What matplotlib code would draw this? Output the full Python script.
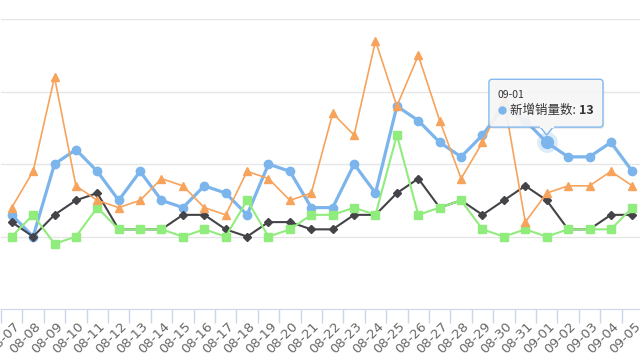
import matplotlib
matplotlib.use("Agg")
import matplotlib.pyplot as plt
import matplotlib.transforms as mtransforms
from matplotlib.patches import FancyBboxPatch, Polygon
import numpy as np

dates = ['08-07', '08-08', '08-09', '08-10', '08-11', '08-12', '08-13', '08-14',
         '08-15', '08-16', '08-17', '08-18', '08-19', '08-20', '08-21', '08-22',
         '08-23', '08-24', '08-25', '08-26', '08-27', '08-28', '08-29', '08-30',
         '08-31', '09-01', '09-02', '09-03', '09-04', '09-05']

new_sales = [3, 0, 10, 12, 9, 5, 9, 5, 4, 7, 6, 3, 10, 9, 4, 4,
             10, 6, 18, 16, 13, 11, 14, 18, 16, 13, 11, 11, 13, 9]
series_black = [2, 0, 3, 5, 6, 1, 1, 1, 3, 3, 1, 0, 2, 2, 1, 1,
                3, 3, 6, 8, 4, 5, 3, 5, 7, 5, 1, 1, 3, 3]
series_green = [0, 3, -1, 0, 4, 1, 1, 1, 0, 1, 0, 5, 0, 1, 3, 3,
                4, 3, 14, 3, 4, 5, 1, 0, 1, 0, 1, 1, 1, 4]
series_orange = [4, 9, 22, 7, 5, 4, 5, 8, 7, 4, 3, 9, 8, 5, 6, 17,
                 14, 27, 18, 25, 16, 8, 13, 19, 2, 6, 7, 7, 9, 7]

hover_idx = 25
hover_name = '新增销量数'

fig = plt.figure(figsize=(6.4, 3.6), dpi=100)
ax = fig.add_axes([1 / 640, 50.9 / 360, 642 / 640, 290 / 360])

x = np.arange(len(dates))

ax.plot(x, new_sales, color='#7cb5ec', lw=2.3, marker='o', ms=6, zorder=3)
ax.plot(x, series_black, color='#434348', lw=1.5, marker='D', ms=4.5, zorder=4)
ax.plot(x, series_green, color='#90ed7d', lw=1.5, marker='s', ms=5.5, zorder=5)
ax.plot(x, series_orange, color='#f7a35c', lw=1.2, marker='^', ms=6, zorder=6)

# hovered point
ax.plot(x[hover_idx], new_sales[hover_idx], 'o', color='#7cb5ec', ms=15, alpha=0.25, zorder=7, mec='none')
ax.plot(x[hover_idx], new_sales[hover_idx], 'o', color='#7cb5ec', ms=8.5, zorder=8)

ax.set_xlim(-0.5, 29.5)
ax.set_ylim(-10, 30)
ax.set_yticks([0, 10, 20, 30])
ax.yaxis.grid(True, color='#e6e6e6', lw=1)
ax.set_axisbelow(True)
ax.tick_params(axis='y', length=0, labelleft=False)
for s in ['top', 'right', 'left']:
    ax.spines[s].set_visible(False)
ax.spines['bottom'].set_color('#ccd6eb')

ax.set_xticks(x, dates, rotation=45, ha='right', va='center', rotation_mode='anchor',
              fontsize=9.5, color='#666666')
ax.set_xticks(np.arange(-0.5, 30, 1), minor=True)
ax.tick_params(axis='x', which='major', length=0, pad=11)
ax.tick_params(axis='x', which='minor', length=10, color='#ccd6eb', width=1)
shift = mtransforms.ScaledTranslation(0.06, 0, fig.dpi_scale_trans)
for lbl in ax.get_xticklabels():
    lbl.set_transform(lbl.get_transform() + shift)

# tooltip
tx0, tx1 = hover_idx - 2.7, hover_idx + 2.63
ty0, ty1 = 15.1, 21.7
shadow = FancyBboxPatch((tx0 + 0.06, ty0 - 0.25), tx1 - tx0, ty1 - ty0,
                        boxstyle='round,pad=0,rounding_size=0.15', fc='#000000', alpha=0.08,
                        ec='none', zorder=9, mutation_aspect=2.9)
ax.add_patch(shadow)
box = FancyBboxPatch((tx0, ty0), tx1 - tx0, ty1 - ty0,
                     boxstyle='round,pad=0,rounding_size=0.15', fc='#f7f7f7', alpha=0.93,
                     ec='#7cb5ec', lw=1, zorder=10, mutation_aspect=2.9)
ax.add_patch(box)
ax.add_patch(Polygon([[hover_idx - 0.3, ty0], [hover_idx, ty0 - 1.1], [hover_idx + 0.3, ty0]],
                     closed=False, fc='#f7f7f7', ec='#7cb5ec', lw=1, zorder=11))
ax.plot([hover_idx - 0.28, hover_idx + 0.28], [ty0, ty0], color='#f7f7f7', lw=1.5, zorder=12)

cjk = ['Noto Sans CJK SC', 'DejaVu Sans']
ax.text(tx0 + 0.38, 19.5, dates[hover_idx], fontsize=7.5, color='#333333',
        family=cjk, va='center', ha='left', zorder=13)
ax.plot(tx0 + 0.6, 17.4, 'o', color='#7cb5ec', ms=5, zorder=13)
t = ax.text(tx0 + 1.0, 17.4, hover_name + ': ', fontsize=9, color='#333333',
            family=cjk, va='center', ha='left', zorder=13)
ax.annotate(str(new_sales[hover_idx]), xycoords=t, xy=(1, 0.5), va='center', ha='left',
            fontsize=9, fontweight='bold', color='#333333', family=cjk, zorder=13)

fig.savefig('out.png', dpi=100)
